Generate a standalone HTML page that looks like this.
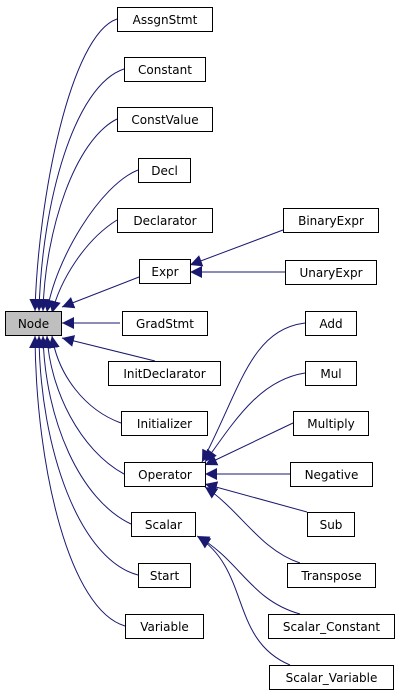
<!DOCTYPE html>
<html><head><style>body{margin:0;background:#fff}svg{display:block}text{font-family:"DejaVu Sans","Liberation Sans",sans-serif;font-size:12px;fill:#000}</style></head><body>
<svg width="400" height="696" viewBox="0 0 400 696" xmlns="http://www.w3.org/2000/svg">
<defs><marker id="a" viewBox="0 0 10 10" refX="10" refY="5" markerWidth="12" markerHeight="12" markerUnits="userSpaceOnUse" orient="auto"><path d="M0,0 L10,5 L0,10 z" fill="#191970"/></marker></defs>
<g fill="none" stroke="#191970" stroke-width="1" marker-end="url(#a)">
<path d="M117,19 C70,35 38,200 35,311"/>
<path d="M124,69 C75,85 42,200 39,311"/>
<path d="M117,119 C75,140 45,230 43,311"/>
<path d="M138,170 C100,185 55,260 47,312"/>
<path d="M117,220 C85,240 60,280 52,313"/>
<path d="M139,277 L62,307"/>
<path d="M120,323 L62,323"/>
<path d="M155,361 L62,338"/>
<path d="M121,423 C85,410 58,375 52,336"/>
<path d="M124,474 C80,450 50,390 47,336"/>
<path d="M131,524 C80,500 45,420 43,336"/>
<path d="M138,575 C80,560 40,450 39,336"/>
<path d="M125,626 C70,610 36,470 35,336"/>
<path d="M283,230 L190,265"/>
<path d="M285,272 L190,272"/>
<path d="M305,323 C250,330 240,390 202,462"/>
<path d="M305,373 C260,380 235,420 205,462"/>
<path d="M293,423 L205,465"/>
<path d="M290,474 L205,474"/>
<path d="M307,512 L205,484"/>
<path d="M300,563 C260,550 240,510 205,487"/>
<path d="M300,614 C250,600 240,560 197,536"/>
<path d="M290,665 C230,640 250,570 198,537"/>
</g>
<g stroke="#000" stroke-width="1">
<rect x="5.5" y="311.5" width="56" height="24" fill="#bfbfbf"/>
<g fill="#fff">
<rect x="117.5" y="7.5" width="95" height="24"/>
<rect x="124.5" y="57.5" width="81" height="24"/>
<rect x="117.5" y="107.5" width="95" height="24"/>
<rect x="138.5" y="158.5" width="52" height="24"/>
<rect x="117.5" y="208.5" width="95" height="24"/>
<rect x="139.5" y="259.5" width="51" height="24"/>
<rect x="283.5" y="208.5" width="95" height="24"/>
<rect x="285.5" y="260.5" width="91" height="24"/>
<rect x="122.5" y="311.5" width="85" height="24"/>
<rect x="108.5" y="361.5" width="112" height="24"/>
<rect x="121.5" y="411.5" width="86" height="24"/>
<rect x="124.5" y="462.5" width="81" height="24"/>
<rect x="305.5" y="311.5" width="51" height="24"/>
<rect x="305.5" y="361.5" width="51" height="24"/>
<rect x="293.5" y="411.5" width="75" height="24"/>
<rect x="290.5" y="462.5" width="82" height="24"/>
<rect x="307.5" y="512.5" width="47" height="24"/>
<rect x="287.5" y="563.5" width="88" height="24"/>
<rect x="131.5" y="512.5" width="64" height="24"/>
<rect x="138.5" y="563.5" width="52" height="24"/>
<rect x="125.5" y="614.5" width="78" height="24"/>
<rect x="268.5" y="614.5" width="126" height="24"/>
<rect x="269.5" y="665.5" width="124" height="24"/>
</g></g>
<g text-anchor="middle">
<text x="33.5" y="328">Node</text>
<text x="165" y="24">AssgnStmt</text>
<text x="165" y="74">Constant</text>
<text x="165" y="124">ConstValue</text>
<text x="164.5" y="175">Decl</text>
<text x="165" y="225">Declarator</text>
<text x="165" y="276">Expr</text>
<text x="331" y="225">BinaryExpr</text>
<text x="331" y="277">UnaryExpr</text>
<text x="165" y="328">GradStmt</text>
<text x="164.5" y="378">InitDeclarator</text>
<text x="164.5" y="428">Initializer</text>
<text x="165" y="479">Operator</text>
<text x="331" y="328">Add</text>
<text x="331" y="378">Mul</text>
<text x="331" y="428">Multiply</text>
<text x="331.5" y="479">Negative</text>
<text x="331" y="529">Sub</text>
<text x="331.5" y="580">Transpose</text>
<text x="163.5" y="529">Scalar</text>
<text x="164.5" y="580">Start</text>
<text x="164.5" y="631">Variable</text>
<text x="331.5" y="631">Scalar_Constant</text>
<text x="331.5" y="682">Scalar_Variable</text>
</g>
</svg>
</body></html>
